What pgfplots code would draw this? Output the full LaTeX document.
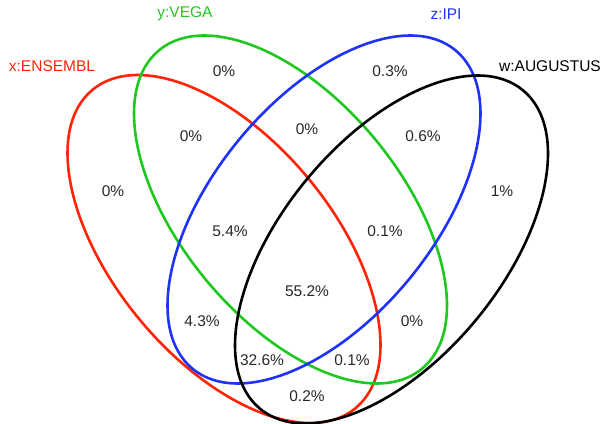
\documentclass[border=0pt]{standalone}
\usepackage{pgfplots}
\pgfplotsset{compat=1.18}
\usepackage{fontspec}
\setmainfont{Liberation Sans}

\definecolor{setx}{RGB}{255,36,8}
\definecolor{sety}{RGB}{30,200,30}
\definecolor{setz}{RGB}{30,50,250}
\definecolor{setw}{RGB}{0,0,0}
\definecolor{numtext}{RGB}{40,40,40}

% Region percentages placed inside the four-set diagram (x, y in drawing units)
\pgfplotstableread{
px    py    pct
113   191   0
224   71    0
191   136   0
307   129   0
390   71    0.3
423   136   0.6
502   191   1
230   231   5.4
385   231   0.1
307   291   55.2
202   321   4.3
412   321   0
262   360   32.6
352   360   0.1
307   396   0.2
}\regions

\begin{document}
\begin{tikzpicture}
\begin{axis}[
  width=605bp, height=424bp, scale only axis,
  xmin=0, xmax=605, ymin=0, ymax=424,
  y dir=reverse, hide axis, clip=false,
]
% the drawing area fixes the size of the picture
\path (axis cs:0,0) rectangle (axis cs:605,424);
% the four sets as rotated ellipses
\draw[overlay, setx, line width=2.6bp, rotate around={-50.45:(axis cs:224,249)}]
  (axis cs:224,249) ellipse [x radius=206.5bp, y radius=110bp];
\draw[overlay, sety, line width=2.6bp, rotate around={-50.45:(axis cs:290.5,209.5)}]
  (axis cs:290.5,209.5) ellipse [x radius=206.5bp, y radius=110bp];
\draw[overlay, setz, line width=2.6bp, rotate around={50.45:(axis cs:324,209.5)}]
  (axis cs:324,209.5) ellipse [x radius=206.5bp, y radius=110bp];
\draw[overlay, setw, line width=2.6bp, rotate around={50.45:(axis cs:391.5,249.5)}]
  (axis cs:391.5,249.5) ellipse [x radius=206.5bp, y radius=110bp];

\addplot[overlay, only marks, mark=none, point meta=explicit symbolic,
  nodes near coords={\pgfplotspointmeta\%},
  nodes near coords style={anchor=center, text=numtext, font=\fontsize{15.5bp}{18bp}\selectfont}]
  table[x=px, y=py, meta=pct] {\regions};

\node[overlay, text=setx, font=\fontsize{15.5bp}{18bp}\selectfont] at (axis cs:52,66) {x:ENSEMBL};
\node[overlay, text=sety, font=\fontsize{15.5bp}{18bp}\selectfont] at (axis cs:185,14) {y:VEGA};
\node[overlay, text=setz, font=\fontsize{15.5bp}{18bp}\selectfont] at (axis cs:446,14) {z:IPI};
\node[overlay, text=setw, font=\fontsize{15.5bp}{18bp}\selectfont] at (axis cs:550,66) {w:AUGUSTUS};
\end{axis}
\end{tikzpicture}
\end{document}
